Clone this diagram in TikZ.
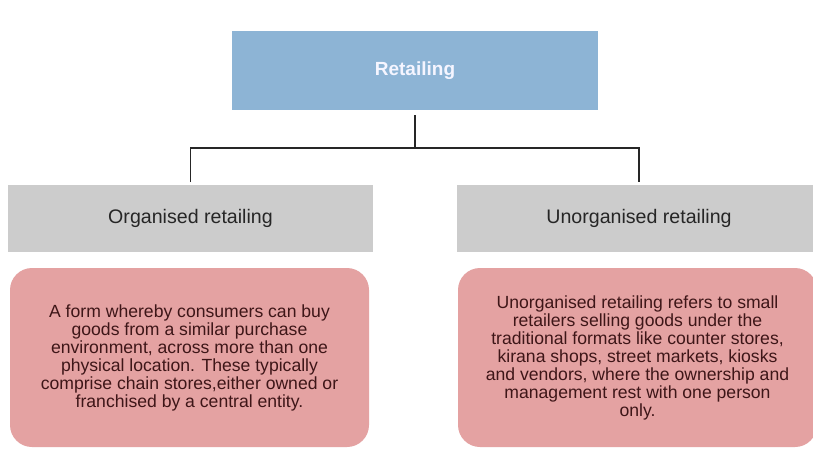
\documentclass[tikz,border=0pt]{standalone}
\usepackage{fontspec}
\setmainfont{Liberation Sans}
\usetikzlibrary{positioning}

\definecolor{retailblue}{RGB}{141,180,213}
\definecolor{kindgray}{RGB}{204,204,204}
\definecolor{notepink}{RGB}{228,162,162}
\definecolor{notetext}{RGB}{62,22,24}

\begin{document}
\begin{tikzpicture}[%
  x=1pt, y=-1pt,
  headbox/.style={fill=retailblue, text=blue!4, inner sep=0pt, outer sep=0pt,
    minimum width=366pt, minimum height=79pt,
    font=\fontsize{19}{21}\selectfont\bfseries},
  kindbox/.style={fill=kindgray, text=black!85, inner sep=0pt, outer sep=0pt,
    minimum width=365pt, minimum height=67pt,
    font=\fontsize{19.6}{22}\selectfont},
  notebox/.style={fill=notepink, text=notetext, inner sep=0pt, outer sep=0pt,
    rounded corners=22pt, minimum width=359pt, minimum height=179pt,
    align=center, font=\fontsize{17.6}{18}\selectfont},
  link/.style={draw=black!85, line width=1.6pt}
]

  \useasboundingbox[fill=white] (0,0) rectangle (813,448);

  \node[headbox] (retail) at (415,70.5) {Retailing};

  \node[kindbox] (org) at (190.5,218.5) {Organised retailing};
  \node[kindbox] (unorg) at (639,218.5) {Unorganised retailing};

  \node[notebox] (orgnote) at (189.5,357.5)
    {A form whereby consumers can buy\\
     goods from a similar purchase\\
     environment, across more than one\\
     physical location. These typically\\
     comprise chain stores,either owned or\\
     franchised by a central entity.};
  \node[notebox] (unorgnote) at (637.5,357.5)
    {Unorganised retailing refers to small\\
     retailers selling goods under the\\
     traditional formats like counter stores,\\
     kirana shops, street markets, kiosks\\
     and vendors, where the ownership and\\
     management rest with one person\\
     only.};

  \coordinate (split) at (415,148);

  \draw[link] ([yshift=-5pt]retail.south) -- (split);
  \draw[link] ([yshift=3pt]org.north) |- (split) -| ([yshift=3pt]unorg.north);

\end{tikzpicture}
\end{document}
